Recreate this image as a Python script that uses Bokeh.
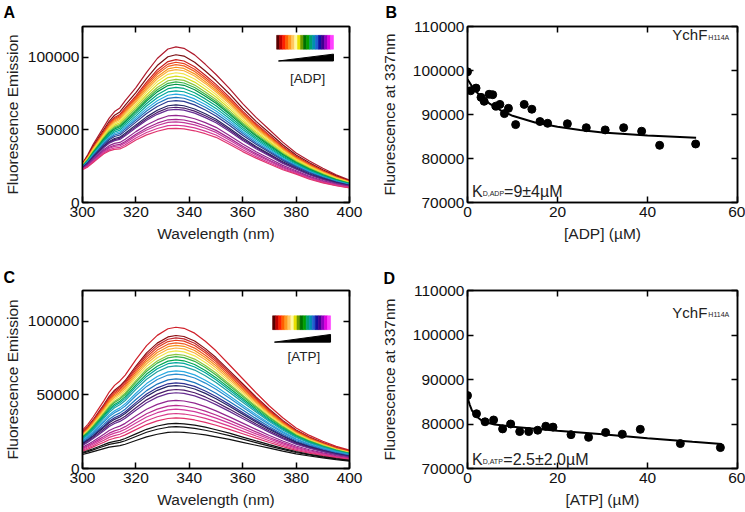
import numpy as np
from bokeh.plotting import figure
from bokeh.models import (Range1d, LinearAxis, FixedTicker, BasicTickFormatter, Label,
                          CustomLabelingPolicy)
from bokeh.layouts import row, column
from bokeh.embed import file_html
from bokeh.resources import INLINE

FONT = "Liberation Sans"

# ---------------- data ----------------
wavelength = [300, 302, 304, 306, 308, 310, 312, 314, 316, 320, 324, 328, 332, 335,
              338, 342, 346, 350, 355, 360, 365, 370, 375, 380, 385, 390, 395, 400]

# panel A (ADP titration): highest and lowest spectra, peak of every spectrum
adp_top = [27000, 33000, 40000, 46000, 52000, 58000, 62500, 65000, 70000, 79000, 89500,
           99000, 105500, 107000, 106000, 101500, 95000, 88000, 78500, 68000, 58500,
           50000, 41500, 34000, 28500, 23500, 19000, 15500]
adp_bottom = [22500, 24500, 27500, 30500, 33500, 35500, 36500, 36800, 38500, 43000, 46500,
              49000, 50800, 51000, 50600, 49300, 47300, 44800, 40000, 35000, 30500,
              26500, 22500, 19500, 16000, 13500, 11500, 10000]
adp_peaks = [107000, 101600, 98200, 96400, 94800, 93000, 91400, 89200, 86900, 84700,
             82900, 81300, 79100, 76800, 74500, 72300, 70100, 67100, 65500, 64000,
             59900, 57200, 55400, 53100, 51000]
adp_colors = ["#b01c2e", "#7b0e12", "#c8201e", "#e8401c", "#f26522", "#f7941d", "#fbb040",
              "#f3e54a", "#d7df23", "#8dc63f", "#39b54a", "#009444", "#00a77e", "#00a99d",
              "#27aae1", "#1c75bc", "#2b3990", "#262262", "#4b1d6b", "#662d91", "#92278f",
              "#a3238e", "#c2399a", "#d53896", "#e0356f"]

# panel C (ATP titration)
atp_top = [26000, 30000, 35000, 40500, 46000, 52000, 56500, 59500, 63500, 74000, 83500,
           90500, 95000, 96000, 95300, 92000, 86500, 80000, 70500, 61000, 51500, 42500,
           34500, 27500, 22500, 18500, 15000, 12500]
atp_bottom = [9500, 10500, 11500, 12500, 13500, 14500, 15000, 15500, 16500, 19000, 21500,
              23300, 24500, 24800, 24500, 23800, 22800, 21500, 19800, 17800, 15800, 13800,
              11800, 10000, 8500, 7200, 6000, 5000]
atp_peaks = [96000, 90400, 88800, 87200, 85400, 83700, 81900, 79900, 77600, 76000, 73800,
             72000, 69800, 66400, 64200, 60900, 58200, 56400, 53700, 51500, 46300, 42900,
             40300, 37400, 34400, 30700, 28400, 24800]
atp_colors = ["#d0202a", "#8b0d10", "#c1272d", "#e03a1e", "#f15a22", "#f7941d", "#fbb040",
              "#f3e54a", "#8dc63f", "#39b54a", "#00a651", "#00a79d", "#1fa2a0", "#29abe2",
              "#2b8fd0", "#1c75bc", "#2e3192", "#262262", "#4b1d6b", "#662d91", "#92278f",
              "#b72b8f", "#d1399c", "#d83a8a", "#e0306a", "#111111", "#111111", "#111111"]

# panel B (fluorescence at 337 nm vs [ADP])
adp_conc = [0.0, 0.7, 1.9, 3.0, 3.7, 4.8, 5.6, 6.3, 7.2, 8.2, 9.1, 10.7, 12.6, 14.3,
            16.1, 17.8, 22.2, 26.4, 30.6, 34.7, 38.7, 42.7, 50.7]
adp_fluor = [99700, 95400, 96000, 93900, 93000, 94600, 94500, 91900, 92300, 90200, 91400,
             87700, 92300, 91200, 88400, 88000, 87900, 87000, 86500, 87000, 86200, 83000, 83300]
adp_fit_conc = [0, 1, 2, 3, 5, 7.5, 10, 15, 20, 25, 30, 40, 50.8]
adp_fit_fluor = [98000, 96400, 95100, 94100, 92400, 90900, 89700, 88200, 87200, 86500,
                 85900, 85200, 84700]

# panel D (fluorescence at 337 nm vs [ATP])
atp_conc = [0.0, 2.0, 3.9, 5.8, 7.8, 9.6, 11.6, 13.6, 15.6, 17.4, 19.0, 23.0, 26.9, 30.7,
            34.4, 38.4, 47.3, 56.2]
atp_fluor = [86400, 82300, 80500, 80900, 78900, 80000, 78300, 78300, 78600, 79500, 79300,
             77600, 77000, 78100, 77700, 78800, 75600, 74700]
atp_fit_conc = [0, 0.5, 1, 2, 3, 4, 6, 10, 20, 30, 40, 50, 56.5]
atp_fit_fluor = [86000, 84300, 83000, 81700, 80900, 80400, 79900, 79400, 78500, 77700,
                 76800, 76000, 75500]

wl_ticks = [300, 320, 340, 360, 380, 400]
em_ticks = [0, 50000, 100000]
conc_ticks = [0, 20, 40, 60]
f337_ticks = [70000, 80000, 90000, 100000, 110000]

gradient_colors = ["#5a0000", "#c00000", "#ff2000", "#ff6000", "#ff9a20", "#ffc860",
                   "#fff8a0", "#e8e000", "#6a9a00", "#007000", "#00a000", "#00a070",
                   "#0090b0", "#2060d0", "#1010a0", "#400090", "#9000c0", "#e000e0", "#ff40ff"]

HIDE_LABELS = "for (let i = 0; i < indices.size; i++) { indices.unset(i) }\nreturn indices"


# ---------------- helpers ----------------
def style_axis(ax, ticks, show_labels=True):
    ax.ticker = FixedTicker(ticks=ticks, minor_ticks=[])
    ax.major_tick_in = 6
    ax.major_tick_out = 0
    ax.minor_tick_in = 0
    ax.minor_tick_out = 0
    ax.major_tick_line_color = "black"
    ax.major_tick_line_width = 1.5
    ax.axis_line_color = "black"
    ax.axis_line_width = 1.5
    ax.formatter = BasicTickFormatter(use_scientific=False)
    ax.major_label_text_font = FONT
    ax.major_label_text_color = "#111111"
    if show_labels:
        ax.major_label_text_font_size = "15.5px"
        ax.axis_label_text_font = FONT
        ax.axis_label_text_font_size = "15.5px"
        ax.axis_label_text_font_style = "normal"
        ax.axis_label_text_color = "#222222"
    else:
        # mirror axis: ticks only, labels are filtered out and take (almost) no room
        ax.major_label_text_font_size = "1px"
        ax.major_label_policy = CustomLabelingPolicy(code=HIDE_LABELS)
        ax.major_label_standoff = 0
        ax.axis_label = None


def make_fig(w, h, xr, yr, xticks, yticks, xlabel, ylabel, borders, ylab_standoff, letter):
    left, right, top, bottom = borders
    p = figure(width=w, height=h, x_range=Range1d(*xr), y_range=Range1d(*yr),
               output_backend="svg", toolbar_location=None, tools="",
               min_border_left=left, min_border_right=right,
               min_border_top=top, min_border_bottom=bottom)
    p.xgrid.visible = False
    p.ygrid.visible = False
    p.outline_line_color = "black"
    p.outline_line_width = 1.5
    p.outline_line_alpha = 1.0
    p.background_fill_color = "white"
    p.border_fill_color = "white"
    style_axis(p.xaxis[0], xticks)
    style_axis(p.yaxis[0], yticks)
    p.xaxis[0].axis_label = xlabel
    p.yaxis[0].axis_label = ylabel
    p.xaxis[0].major_label_standoff = 4
    p.xaxis[0].axis_label_standoff = 5
    p.yaxis[0].major_label_standoff = 3
    p.yaxis[0].axis_label_standoff = ylab_standoff
    top_ax = LinearAxis()
    style_axis(top_ax, xticks, show_labels=False)
    p.add_layout(top_ax, "above")
    right_ax = LinearAxis()
    style_axis(right_ax, yticks, show_labels=False)
    p.add_layout(right_ax, "right")
    # panel letter
    p.title.text = letter[0]
    p.title.align = "left"
    p.title.offset = letter[1]
    p.title.standoff = letter[2]
    p.title.text_font = FONT
    p.title.text_font_size = "16px"
    p.title.text_font_style = "bold"
    p.title.text_color = "black"
    return p


def spectra_panel(p, top, bottom, peaks, colors, bar, wedge, lab):
    top_a = np.array(top, dtype=float)
    bot_a = np.array(bottom, dtype=float)
    t_pk, b_pk = top_a.max(), bot_a.max()
    for pk, c in zip(peaks, colors):
        f = (pk - b_pk) / (t_pk - b_pk)
        p.line(wavelength, bot_a + f * (top_a - bot_a), line_color=c, line_width=1.2)
    x0, x1, y0, y1 = bar
    edges = np.linspace(x0, x1, len(gradient_colors) + 1)
    p.quad(left=edges[:-1], right=edges[1:], bottom=y0, top=y1,
           fill_color=gradient_colors, line_color=gradient_colors, line_width=0.6)
    wx0, wx1, wy0, wy1 = wedge
    p.patch([wx0, wx1, wx1], [wy0, wy0, wy1], color="black")
    p.add_layout(Label(x=lab[0], y=lab[1], text=lab[2], text_font=FONT,
                       text_font_size="13.5px", text_align="center",
                       text_baseline="middle", text_color="#222222"))


def binding_panel(p, conc, fluor, fit_c, fit_f, ych_y, kd_y, kd_sub, kd_rest, sub_shift):
    p.line(fit_c, fit_f, line_color="black", line_width=2)
    p.scatter(conc, fluor, size=8, color="black")
    p.add_layout(Label(x=53.3, y=ych_y, text="YchF", text_font=FONT, text_font_size="15px",
                       text_align="right", text_baseline="alphabetic", text_color="#222222"))
    p.add_layout(Label(x=53.3, y=ych_y - sub_shift, x_offset=1, text="H114A", text_font=FONT,
                       text_font_size="7px", text_align="left", text_baseline="alphabetic",
                       text_color="#222222"))
    p.add_layout(Label(x=1.0, y=kd_y, text="K", text_font=FONT, text_font_size="16px",
                       text_align="left", text_baseline="alphabetic", text_color="#222222"))
    p.add_layout(Label(x=1.0, y=kd_y - sub_shift, x_offset=10.7, text=kd_sub, text_font=FONT,
                       text_font_size="7px", text_align="left", text_baseline="alphabetic",
                       text_color="#222222"))
    sub_w = {"D,ADP": 21.4, "D,ATP": 20.6}[kd_sub]
    p.add_layout(Label(x=1.0, y=kd_y, x_offset=10.7 + sub_w, text=kd_rest, text_font=FONT,
                       text_font_size="16px", text_align="left", text_baseline="alphabetic",
                       text_color="#222222"))


# ---------------- panels ----------------
pA = make_fig(370, 256, (300, 400), (0, 121000), wl_ticks, em_ticks,
              "Wavelength (nm)", "Fluorescence Emission", (82, 21, 23, 54), 4, ("A", -79, 3))
spectra_panel(pA, adp_top, adp_bottom, adp_peaks, adp_colors,
              (372.7, 394.0, 105400, 114900), (373.4, 394.0, 97300, 102000),
              (384.3, 85100, "[ADP]"))

pB = make_fig(375, 256, (0, 60), (70000, 110000), conc_ticks, f337_ticks,
              "[ADP] (\u00b5M)", "Fluorescence at 337nm", (97, 8, 24, 53), 12, ("B", -82, 3))
binding_panel(pB, adp_conc, adp_fluor, adp_fit_conc, adp_fit_fluor,
              108100, 72500, "D,ADP", "=9\u00b14\u00b5M", 500)

pC = make_fig(370, 256, (300, 400), (0, 121000), wl_ticks, em_ticks,
              "Wavelength (nm)", "Fluorescence Emission", (82, 21, 33, 43), 4, ("C", -79, 2))
spectra_panel(pC, atp_top, atp_bottom, atp_peaks, atp_colors,
              (371.2, 392.9, 94400, 103800), (371.9, 392.9, 85900, 91100),
              (382.9, 75800, "[ATP]"))

pD = make_fig(375, 256, (0, 60), (70000, 110000), conc_ticks, f337_ticks,
              "[ATP] (\u00b5M)", "Fluorescence at 337nm", (97, 8, 34, 44), 12, ("D", -84, 0))
binding_panel(pD, atp_conc, atp_fluor, atp_fit_conc, atp_fit_fluor,
              105100, 72000, "D,ATP", "=2.5\u00b12.0\u00b5M", 500)

layout = column(row(pA, pB, spacing=0), row(pC, pD, spacing=0), spacing=0)

with open("out.html", "w") as fh:
    fh.write(file_html(layout, INLINE))
